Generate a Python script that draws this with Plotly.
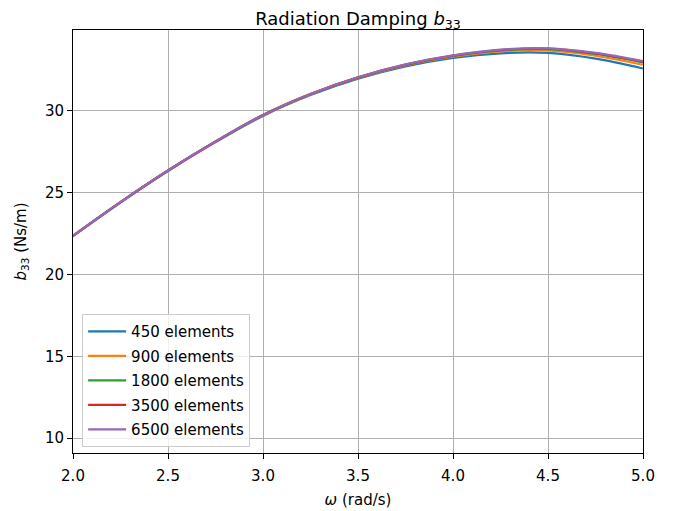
import plotly.graph_objects as go

omega = [2.0, 2.25, 2.5, 2.75, 3.0, 3.25, 3.5, 3.75, 4.0, 4.25, 4.5, 4.75, 5.0]

b33_450 = [22.33, 24.38, 26.30, 28.06, 29.66, 30.93, 31.93, 32.68, 33.20, 33.48, 33.50, 33.15, 32.55]
b33_900 = [22.34, 24.39, 26.32, 28.08, 29.69, 30.97, 31.97, 32.74, 33.27, 33.60, 33.65, 33.33, 32.78]
b33_1800 = [22.35, 24.40, 26.33, 28.09, 29.71, 30.99, 32.00, 32.77, 33.32, 33.66, 33.73, 33.44, 32.92]
b33_3500 = [22.35, 24.40, 26.33, 28.10, 29.72, 31.00, 32.01, 32.79, 33.34, 33.68, 33.76, 33.47, 32.96]
b33_6500 = [22.35, 24.40, 26.33, 28.10, 29.72, 31.00, 32.02, 32.80, 33.35, 33.70, 33.78, 33.50, 33.00]

series_names = ["450 elements", "900 elements", "1800 elements", "3500 elements", "6500 elements"]
series_values = [b33_450, b33_900, b33_1800, b33_3500, b33_6500]
colors = ["#1f77b4", "#ff7f0e", "#2ca02c", "#d62728", "#9467bd"]

x_ticks = [2.0, 2.5, 3.0, 3.5, 4.0, 4.5, 5.0]
y_ticks = [10, 15, 20, 25, 30]

fig = go.Figure()
for i, (name, vals, col) in enumerate(zip(series_names, series_values, colors)):
    fig.add_trace(go.Scatter(
        x=omega, y=vals, mode="lines", name=name,
        line=dict(color=col, width=2.2, shape="spline"),
        legendgroup=f"g{i}",
    ))

axis_common = dict(
    showline=True, linecolor="black", linewidth=1, mirror=True,
    ticks="outside", ticklen=5, tickwidth=1, tickcolor="black",
    showgrid=True, gridcolor="#b0b0b0", gridwidth=1,
    zeroline=False, automargin=False,
    tickfont=dict(family="DejaVu Sans", size=15, color="black"),
)

fig.update_layout(
    width=680, height=511,
    margin=dict(l=65, r=45, t=22, b=66),
    paper_bgcolor="white", plot_bgcolor="white",
    font=dict(family="DejaVu Sans", color="black"),
    title=dict(
        text="Radiation Damping <i>b</i><sub>33</sub>",
        x=0.5, xanchor="center", xref="paper",
        y=1 - 10.5 / 511, yanchor="middle", yref="container",
        font=dict(family="DejaVu Sans", size=18, color="black"),
    ),
    xaxis=dict(
        range=[2.0, 5.0], tickvals=x_ticks,
        ticktext=[f"{v:.1f}" for v in x_ticks],
        ticklabelstandoff=4,
        title=dict(text="<i>ω</i> (rad/s)", font=dict(size=15), standoff=10),
        **axis_common,
    ),
    yaxis=dict(
        range=[9.1, 34.9], tickvals=y_ticks,
        ticktext=[str(v) for v in y_ticks],
        title=dict(text="<i>b</i><sub>33</sub> (Ns/m)", font=dict(size=15), standoff=14),
        **axis_common,
    ),
    legend=dict(
        x=0.016, y=0.014, xanchor="left", yanchor="bottom",
        bgcolor="rgba(255,255,255,0.8)", bordercolor="#cccccc", borderwidth=1,
        font=dict(family="DejaVu Sans", size=15, color="black"),
        traceorder="grouped", tracegroupgap=2, itemwidth=38,
    ),
    showlegend=True,
)

fig.write_html("out.html")
